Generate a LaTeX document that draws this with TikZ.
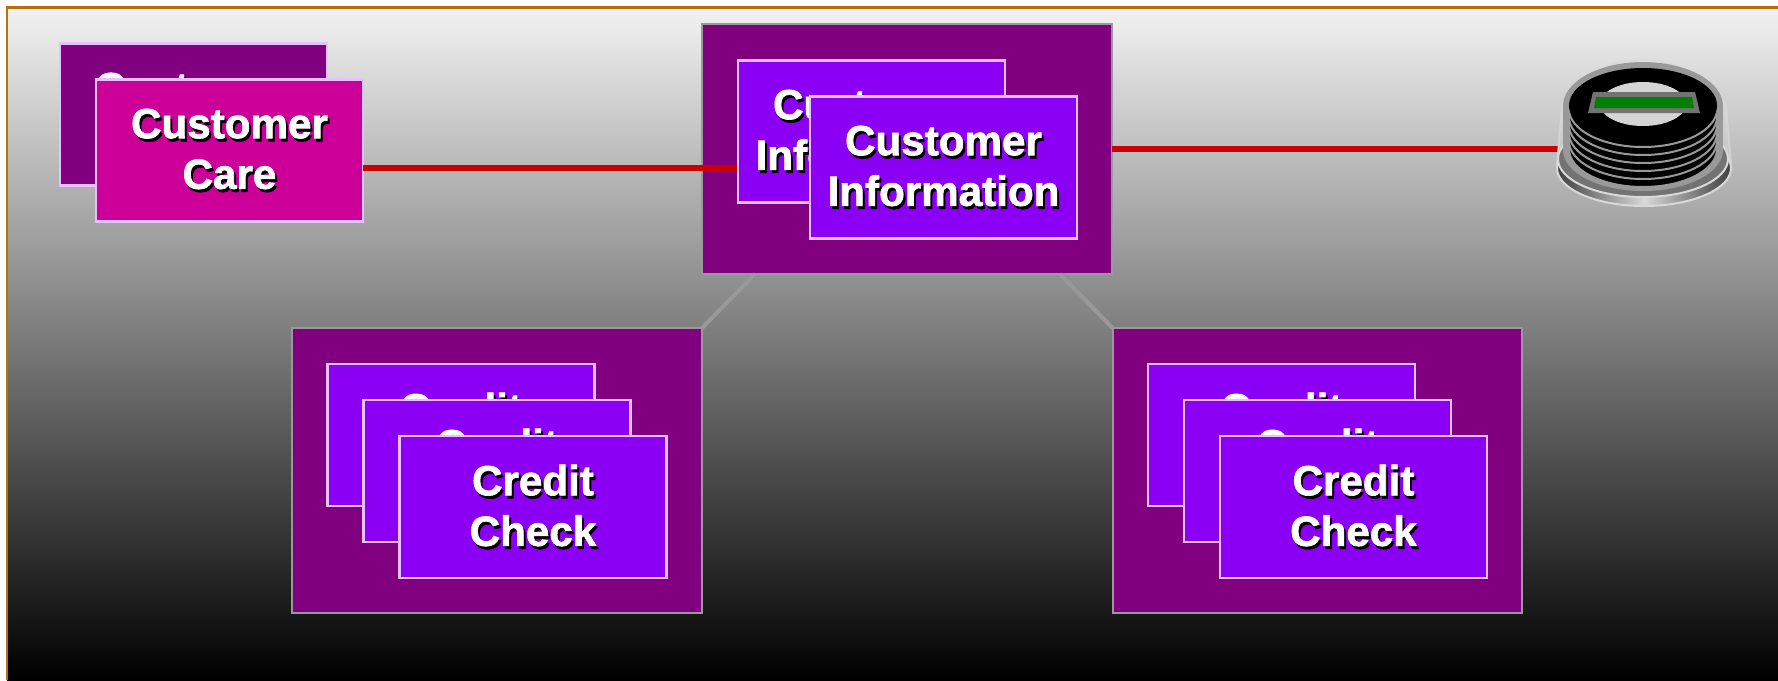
\documentclass[tikz,border=0pt]{standalone}
\usepackage{fontspec}
\setmainfont{Liberation Sans}[BoldFeatures={FakeBold=1.6}]
\usetikzlibrary{positioning, calc}
\definecolor{plum}{HTML}{800080}
\definecolor{violet}{HTML}{8B00F5}
\definecolor{care}{HTML}{CC0099}
\definecolor{lilac}{HTML}{E6C0FF}
\definecolor{frameline}{HTML}{B87008}
\definecolor{redline}{HTML}{CC0000}
\newcommand{\dropped}[1]{\raisebox{-.03cm}{\makebox[0pt]{\hspace{.08cm}\raisebox{-.06cm}{\color{black}#1}}\makebox[0pt]{\color{white}#1}}}
\newcommand{\cardtext}[2]{\dropped{#1}\\\dropped{#2}}
\tikzstyle{link} = [draw=redline, line width=.12cm]
\tikzstyle{tie} = [draw=black!40, line width=.08cm]

\begin{document}
\begin{tikzpicture}[x=.02cm, y=-.02cm,
    host/.style={rectangle, draw=black!40, fill=plum, line width=.04cm, minimum width=8.2cm, outer sep=0pt},
    card/.style={rectangle, draw=lilac, fill=violet, line width=.05cm, minimum width=5.34cm, minimum height=2.84cm, outer sep=0pt, align=center, font=\fontsize{24pt}{28.8pt}\selectfont\bfseries},
    next card/.style={xshift=.72cm, yshift=-.72cm},
    metal/.style={draw=black!15, line width=.04cm}]

    \useasboundingbox (0,0) rectangle (1778,680);

    % backdrop
    \fill[white] (0,0) rectangle (1778,680);
    \shade[top color=black!5, bottom color=black] (7,7) rectangle (1778,680);
    \draw[frameline, line width=.06cm] (7,680) -- (7,7) -- (1778,7);

    % hosts
    \node (cihost) [host, minimum height=5cm] at (907,149) {};
    \node (clhost) [host, minimum height=5.7cm] at (497,470.5) {};
    \node (crhost) [host, minimum height=5.7cm] at (1317.5,470.5) {};

    \coordinate (lfoot) at (755,274);
    \coordinate (rfoot) at (1060,274);
    \coordinate (cijoint) at (737,167.5);
    \coordinate (disk) at (1558,149);

    \draw[tie] (lfoot) -- (clhost.north east);
    \draw[tie] (rfoot) -- (crhost.north west);

    % customer care
    \node (cc1) [card, fill=plum] at (193.5,114.5) {\cardtext{Customer}{Care}};
    \node (cc2) [card, fill=care, next card] at (cc1) {\cardtext{Customer}{Care}};

    \draw[link] (cc2.east |- cijoint) -- (cijoint);
    \draw[link] (cihost.east) -- (disk);

    % customer information
    \node (ci1) [card] at (871.5,131.5) {\cardtext{Customer}{Information}};
    \node (ci2) [card, next card, xshift=.72cm] at (ci1) {\cardtext{Customer}{Information}};

    % credit check stacks
    \foreach \name in {cl, cr} {
      \node (\name a) [card, xshift=-.72cm, yshift=.71cm] at (\name host) {\cardtext{Credit}{Check}};
      \node (\name b) [card, next card] at (\name a) {\cardtext{Credit}{Check}};
      \node (\name c) [card, next card] at (\name b) {\cardtext{Credit}{Check}};
    }

    % disk
    \fill[white, opacity=.15] (1557,165) -- (1562,105) .. controls (1572,78) and (1610,60) .. (1643,60) .. controls (1676,60) and (1714,78) .. (1726,105) -- (1731,165) -- cycle;
    \draw[metal, opacity=.7] (1557,165) -- (1562,105) .. controls (1572,78) and (1610,60) .. (1643,60) .. controls (1676,60) and (1714,78) .. (1726,105) -- (1731,165);
    \shade[left color=black!75, right color=black!75, middle color=black!15] (1644,168) ellipse [x radius=87, y radius=38];
    \draw[metal] (1644,168) ellipse [x radius=87, y radius=38];
    \draw[metal, fill=black!55] (1643,159) ellipse [x radius=85, y radius=38];
    \fill[black!40] (1643,106) ellipse [x radius=80, y radius=44];
    \fill[black!40] (1563,106) rectangle (1723,150);
    \fill[black!40] (1643,150) ellipse [x radius=80, y radius=41];
    \foreach \dy in {44,36,28,20,12,4}
      \draw[black!40, fill=black, line width=.04cm] (1643,105+\dy) ellipse [x radius=74, y radius=38];
    \fill[black] (1643,105.5) ellipse [x radius=74, y radius=37.5];
    \fill[black!17] (1643,104) ellipse [x radius=43, y radius=22];
    \fill[black!55] (1593,92) -- (1695,92) -- (1700,113) -- (1588,113) -- cycle;
    \fill[green!50!black] (1596,97) -- (1692,97) -- (1694,108) -- (1594,108) -- cycle;

\end{tikzpicture}
\end{document}
